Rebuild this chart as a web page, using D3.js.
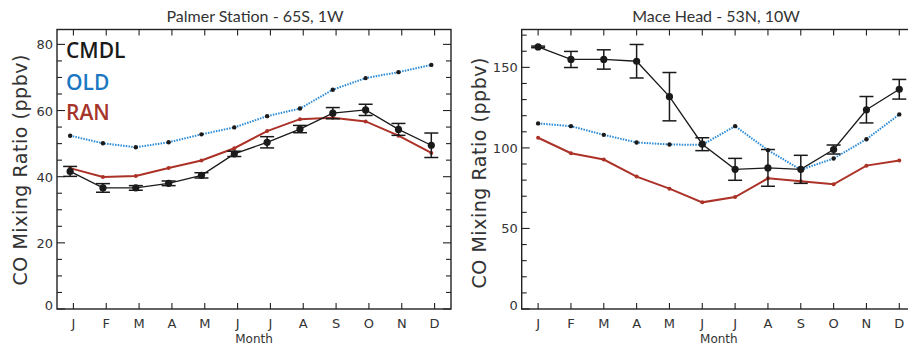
<!DOCTYPE html>
<html>
<head>
<meta charset="utf-8">
<script src="https://cdn.jsdelivr.net/npm/d3@7"></script>
<style>
  body { margin: 0; background: #fff; }
  svg { display: block; }
</style>
</head>
<body>
<div id="chart"></div>
<script>
const months = ['J', 'F', 'M', 'A', 'M', 'J', 'J', 'A', 'S', 'O', 'N', 'D'];
const seriesNames = ['CMDL', 'OLD', 'RAN'];

// Palmer Station - 65S, 1W
const palmerCmdl = [41.6, 36.6, 36.6, 38.0, 40.4, 46.9, 50.4, 54.4, 59.2, 60.2, 54.3, 49.5];
const palmerCmdlErr = [1.5, 1.3, 0.7, 0.7, 0.8, 0.8, 1.7, 1.1, 1.7, 1.7, 1.8, 3.7];
const palmerOld = [52.4, 50.1, 48.9, 50.4, 52.8, 54.9, 58.3, 60.6, 66.3, 69.8, 71.6, 73.8];
const palmerRan = [42.6, 39.9, 40.2, 42.6, 44.9, 48.6, 53.8, 57.4, 57.8, 56.7, 52.4, 47.2];
const palmerTicks = [0, 20, 40, 60, 80];

// Mace Head - 53N, 10W
const maceCmdl = [162.7, 154.9, 154.9, 153.8, 131.8, 102.3, 86.7, 87.6, 86.7, 99.0, 123.7, 136.4];
const maceCmdlErr = [0.5, 5.0, 6.0, 10.4, 15.0, 4.0, 6.8, 11.4, 8.7, 2.8, 8.2, 6.1];
const maceOld = [115.2, 113.5, 108.1, 103.4, 102.1, 101.9, 113.5, 98.6, 86.4, 93.4, 105.4, 120.8];
const maceRan = [106.3, 96.7, 92.8, 82.2, 74.7, 66.2, 69.5, 81.1, 79.3, 77.4, 89.0, 92.2];
const maceTicks = [0, 50, 100, 150];

const width = 908, height = 345;
const colors = { CMDL: '#1a1a1a', OLD: '#2a8ad6', RAN: '#ac3228' };
const labelColors = { CMDL: '#1a1a1a', OLD: '#1c78c2', RAN: '#a6342b' };

const svg = d3.select('#chart').append('svg')
  .attr('width', width)
  .attr('height', height);

function drawPanel(p) {
  const x = d3.scaleLinear().domain([0.5, 12.5]).range([p.left, p.right]);
  // points sit slightly left of the month ticks in the left panel
  const xp = x.copy().domain([0.5 + p.shift, 12.5 + p.shift]);
  const y = d3.scaleLinear().domain([0, p.yMax]).range([p.bottom, p.top]);
  const g = svg.append('g');

  // frame
  g.append('rect')
    .attr('x', p.left).attr('y', p.top)
    .attr('width', p.right - p.left).attr('height', p.bottom - p.top)
    .attr('fill', 'none').attr('stroke', '#222').attr('stroke-width', 1.4);

  // left / right y ticks (right ones only if that side is on the page)
  const minor = d3.range(0, p.yMax, p.minorStep);
  minor.forEach(v => {
    const len = p.ticks.includes(v) ? 8 : 5;
    g.append('line').attr('x1', p.left).attr('x2', p.left + len)
      .attr('y1', y(v)).attr('y2', y(v)).attr('stroke', '#222').attr('stroke-width', 1.1);
    if (p.right < width) {
      g.append('line').attr('x1', p.right).attr('x2', p.right - len)
        .attr('y1', y(v)).attr('y2', y(v)).attr('stroke', '#222').attr('stroke-width', 1.1);
    }
  });

  // y tick labels
  g.selectAll('.ylab').data(p.ticks).enter().append('text')
    .attr('x', p.left - 4)
    .attr('y', d => y(d) + (d === 0 ? 1 : 5))
    .attr('text-anchor', 'end')
    .style('font-family', 'DejaVu Sans')
    .style('font-size', '13px')
    .attr('fill', '#333')
    .text(d => d);

  // month ticks top and bottom
  months.forEach((m, i) => {
    g.append('line').attr('x1', x(i + 1)).attr('x2', x(i + 1))
      .attr('y1', p.bottom).attr('y2', p.bottom - 6).attr('stroke', '#222').attr('stroke-width', 1.1);
    g.append('line').attr('x1', x(i + 1)).attr('x2', x(i + 1))
      .attr('y1', p.top).attr('y2', p.top + 6).attr('stroke', '#222').attr('stroke-width', 1.1);
  });

  g.selectAll('.xlab').data(months).enter().append('text')
    .attr('x', (d, i) => x(i + 1))
    .attr('y', p.bottom + 19)
    .attr('text-anchor', 'middle')
    .style('font-family', 'DejaVu Sans')
    .style('font-size', '13px')
    .attr('fill', '#333')
    .text(d => d);

  // axis labels and title
  g.append('text')
    .attr('x', (p.left + Math.min(p.right, width)) / 2 + p.titleDx)
    .attr('y', 343)
    .attr('text-anchor', 'middle')
    .style('font-family', 'DejaVu Sans')
    .style('font-size', '12px')
    .attr('fill', '#333')
    .text('Month');

  g.append('text')
    .attr('x', p.titleX)
    .attr('y', 22)
    .attr('text-anchor', 'middle')
    .style('font-family', 'Lato')
    .style('font-size', '16px')
    .attr('fill', '#333')
    .text(p.title);

  g.append('text')
    .attr('transform', `translate(${p.yTitleX},${p.yTitleY}) rotate(-90)`)
    .attr('text-anchor', 'middle')
    .attr('textLength', 231)
    .attr('lengthAdjust', 'spacing')
    .style('font-family', 'DejaVu Sans')
    .style('font-size', '19px')
    .attr('fill', '#333')
    .text('CO Mixing Ratio  (ppbv)');

  const line = d3.line().x((d, i) => xp(i + 1)).y(d => y(d));

  // RAN
  g.append('path').datum(p.ran).attr('d', line)
    .attr('fill', 'none').attr('stroke', colors.RAN).attr('stroke-width', 2);
  g.selectAll('.ran').data(p.ran).enter().append('circle')
    .attr('cx', (d, i) => xp(i + 1)).attr('cy', d => y(d)).attr('r', 2)
    .attr('fill', colors.RAN);

  // OLD
  g.append('path').datum(p.old).attr('d', line)
    .attr('fill', 'none').attr('stroke', colors.OLD).attr('stroke-width', 2)
    .attr('stroke-dasharray', '1.5,1.2');
  g.selectAll('.old').data(p.old).enter().append('circle')
    .attr('cx', (d, i) => xp(i + 1)).attr('cy', d => y(d)).attr('r', 2.2)
    .attr('fill', '#1a1a1a');

  // CMDL with error bars
  g.append('path').datum(p.cmdl).attr('d', line)
    .attr('fill', 'none').attr('stroke', colors.CMDL).attr('stroke-width', 1.3);
  p.cmdl.forEach((v, i) => {
    const cx = xp(i + 1), lo = y(v - p.err[i]), hi = y(v + p.err[i]);
    g.append('line').attr('x1', cx).attr('x2', cx).attr('y1', lo).attr('y2', hi)
      .attr('stroke', colors.CMDL).attr('stroke-width', 1.5);
    [lo, hi].forEach(yy => g.append('line')
      .attr('x1', cx - 7).attr('x2', cx + 7).attr('y1', yy).attr('y2', yy)
      .attr('stroke', colors.CMDL).attr('stroke-width', 1.5));
  });
  g.selectAll('.cmdl').data(p.cmdl).enter().append('circle')
    .attr('cx', (d, i) => xp(i + 1)).attr('cy', d => y(d)).attr('r', 3.6)
    .attr('fill', colors.CMDL);

  // legend
  if (p.legend) {
    seriesNames.forEach((s, i) => {
      g.append('text')
        .attr('x', p.left + 9)
        .attr('y', [58, 90, 120][i])
        .style('font-family', 'Open Sans')
        .style('font-size', '21px')
        .style('font-weight', 600)
        .attr('fill', labelColors[s])
        .text(s);
    });
  }
}

drawPanel({
  left: 57, right: 451, top: 29.5, bottom: 309, yMax: 84.5, ticks: palmerTicks, minorStep: 5,
  shift: 0.1, title: 'Palmer Station - 65S, 1W', titleX: 255, titleDx: 0,
  yTitleX: 27, yTitleY: 170, legend: true,
  cmdl: palmerCmdl, err: palmerCmdlErr, old: palmerOld, ran: palmerRan
});

drawPanel({
  left: 521.7, right: 915.7, top: 29.5, bottom: 309, yMax: 173.5, ticks: maceTicks, minorStep: 10,
  shift: 0, title: 'Mace Head - 53N, 10W', titleX: 716, titleDx: 4,
  yTitleX: 486, yTitleY: 173, legend: false,
  cmdl: maceCmdl, err: maceCmdlErr, old: maceOld, ran: maceRan
});
</script>
</body>
</html>
